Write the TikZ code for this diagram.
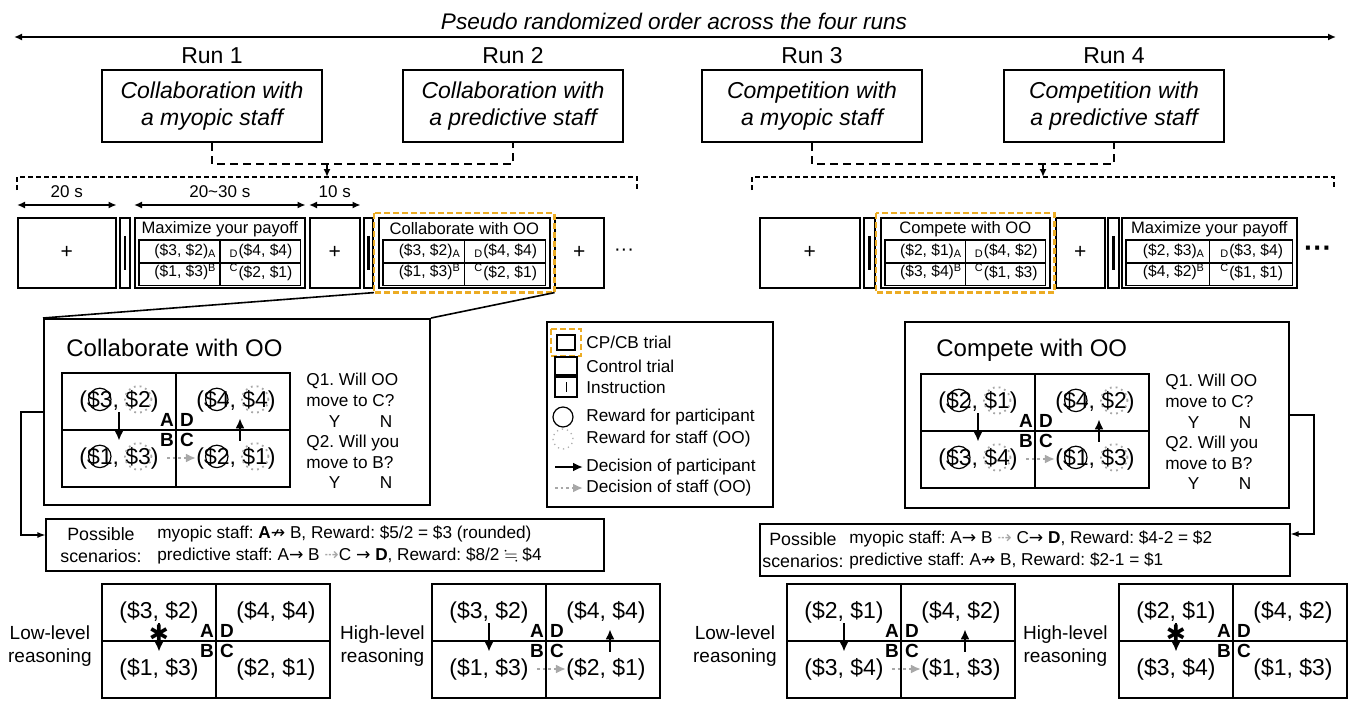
\documentclass[tikz,border=0pt]{standalone}
\usepackage{fontspec}
\setmainfont{Liberation Sans}
\newfontfamily\djv{DejaVu Sans}
\usepackage{amssymb}
\usepackage{tikz}
\usetikzlibrary{arrows.meta,positioning,calc}
\definecolor{cpgold}{RGB}{236,172,36}
\definecolor{oogray}{RGB}{168,168,168}
\newcommand{\fsz}[2]{\fontsize{#1}{#2}\selectfont}
\newcommand{\pmove}{{\djv →}}
\newcommand{\pstop}{{\djv ↛}}
\newcommand{\omove}{{\color{oogray}\djv ⇢}}

% 2x2 payoff grid: name, centre, cells A D B C
\newcommand{\payoffgrid}[6]{%
  \node[paygrid] (#1) at (#2) {};
  \draw[gridline] (#1.north) -- (#1.south);
  \draw[gridline] (#1.west) -- (#1.east);
  \node[pay] (#1-a) at ($(#1.center)+(-57,-29)$) {#3};
  \node[pay] (#1-d) at ($(#1.center)+(60,-29)$) {#4};
  \node[pay] (#1-b) at ($(#1.center)+(-57,28)$) {#5};
  \node[pay] (#1-c) at ($(#1.center)+(60,28)$) {#6};
  \node[corner] (#1-la) at ($(#1.center)+(-9,-10)$) {A};
  \node[corner] (#1-ld) at ($(#1.center)+(11,-10)$) {D};
  \node[corner] (#1-lb) at ($(#1.center)+(-9,10)$) {B};
  \node[corner] (#1-lc) at ($(#1.center)+(11,10)$) {C};
}

% trial screen in the run strip: name, left x, width, title, cells A D B C
\newcommand{\trialscreen}[8]{%
  \node[trial, minimum width=#3*0.5pt] (#1) at (#2,217) {};
  \node[trialtitle] (#1-t) at ($(#1.north)+(0,12)$) {#4};
  \draw[tableline] ($(#1.north west)+(5,23)$) rectangle ($(#1.south east)+(-5,-3)$);
  \draw[tableline] ($(#1.north)+(0,23)$) -- ($(#1.south)+(0,-3)$);
  \draw[tableline] ($(#1.west)+(5,10)$) -- ($(#1.east)+(-5,10)$);
  \node[cellt] (#1-a) at ($(#1.north west)!0.3!(#1.north east)+(0,34)$) {#5};
  \node[cellt] (#1-d) at ($(#1.north west)!0.74!(#1.north east)+(0,34)$) {#6};
  \node[cellt] (#1-b) at ($(#1.north west)!0.3!(#1.north east)+(0,55)$) {#7};
  \node[cellt] (#1-c) at ($(#1.north west)!0.74!(#1.north east)+(0,55)$) {#8};
}

\begin{document}
\frenchspacing
\begin{tikzpicture}[x=0.5pt, y=-0.5pt,
  runbox/.style={draw, line width=1pt, minimum width=110pt, minimum height=36pt, align=center, font=\itshape\fsz{11.5}{13.5}},
  runlabel/.style={inner sep=0, font=\fsz{11.5}{13}},
  runlink/.style={line width=0.9pt, dash pattern=on 4pt off 2.5pt},
  bracket/.style={line width=0.6pt, dash pattern=on 2.5pt off 1.5pt},
  durspan/.style={arrows={Latex[length=4pt,width=3.5pt]-Latex[length=4pt,width=3.5pt]}, line width=0.8pt},
  spanlabel/.style={inner sep=0, font=\fsz{8.5}{10}},
  trial/.style={draw, line width=0.8pt, anchor=north west, minimum height=35pt, inner sep=0, font=\fsz{10.5}{12}},
  trialtitle/.style={inner sep=0, font=\fsz{8.3}{9.5}},
  tableline/.style={line width=0.8pt},
  cellt/.style={inner sep=0, font=\fsz{7.8}{8.5}},
  instrbar/.style={line width=1.3pt},
  cpline/.style={cpgold, line width=1.2pt, dash pattern=on 3pt off 1.5pt},
  panel/.style={draw, line width=1pt},
  paneltitle/.style={anchor=west, inner sep=0, font=\fsz{12}{14}},
  paygrid/.style={draw, line width=1pt, minimum width=114pt, minimum height=57pt, inner sep=0},
  gridline/.style={line width=1pt},
  pay/.style={inner sep=0, font=\fsz{11.5}{13}},
  corner/.style={inner sep=0, font=\bfseries\fsz{9.5}{11}},
  ring/.style={line width=0.6pt},
  oring/.style={oogray, line width=0.9pt, dotted},
  pdec/.style={line width=1.3pt, -{Latex[length=5pt,width=4.5pt]}},
  odec/.style={oogray, line width=1.3pt, dash pattern=on 1.3pt off 1.5pt, -{Latex[length=5pt,width=4.5pt]}},
  blockmark/.style={inner sep=0, font=\djv\fsz{12}{12}},
  qtext/.style={anchor=north west, align=left, inner sep=0, font=\fsz{8.6}{10.3}},
  legendtext/.style={anchor=west, inner sep=0, font=\fsz{8.6}{10}},
  icon/.style={draw, line width=1pt, inner sep=0},
  scenbox/.style={draw, line width=0.6pt, inner sep=0},
  scentext/.style={inner sep=0, align=left, anchor=west, font=\fsz{8.6}{11}},
  scenhead/.style={inner sep=0, align=center, font=\fsz{8.9}{11}},
  levellabel/.style={inner sep=0, align=center, anchor=east, font=\fsz{9.5}{11.5}},
  link/.style={line width=0.6pt, -{Latex[length=4pt,width=3pt]}}
]
\useasboundingbox (0,0) rectangle (1348,701);

% order of the runs
\node[inner sep=0, font=\itshape\fsz{11.3}{13}] (order) at (674,21) {Pseudo randomized order across the four runs};
\coordinate (ordL) at (14,37);
\coordinate (ordR) at (1336,37);
\draw[durspan, line width=0.8pt] (ordL) -- (ordR);

% runs
\node[runbox] (R1) at (212,106) {Collaboration with\\a myopic staff};
\node[runbox] (R2) at (513,106) {Collaboration with\\a predictive staff};
\node[runbox] (R3) at (812,106) {Competition with\\a myopic staff};
\node[runbox] (R4) at (1114,106) {Competition with\\a predictive staff};
\foreach \r in {1,...,4}
  \node[runlabel, above=2.5pt of R\r] (R\r-l) {Run \r};

\draw[runlink] (R1.south) -- ++(0,21) -| (R2.south);
\draw[runlink] (R3.south) -- ++(0,21) -| (R4.south);
\coordinate (trainL) at (327,177);
\coordinate (trainR) at (1043,177);
\draw[runlink, -{Latex[length=4pt,width=3.5pt]}] ($(trainL)+(0,-14)$) -- (trainL);
\draw[runlink, -{Latex[length=4pt,width=3.5pt]}] ($(trainR)+(0,-14)$) -- (trainR);
\draw[bracket] (17,190) -- (17,177) -- (637,177) -- (637,190);
\draw[bracket] (752,190) -- (752,177) -- (1334,177) -- (1334,190);

% run strip, left
\node[trial, minimum width=49pt] (F1) at (17,217) {+};
\trialscreen{T1}{134}{170}{Maximize your payoff}{(\$3, \$2)\textsubscript{A}}{\textsubscript{D}(\$4, \$4)}{(\$1, \$3)\textsuperscript{B}}{\textsuperscript{C}(\$2, \$1)}
\node[trial, minimum width=25pt] (F2) at (309,217) {+};
\trialscreen{T2}{378}{171}{Collaborate with OO}{(\$3, \$2)\textsubscript{A}}{\textsubscript{D}(\$4, \$4)}{(\$1, \$3)\textsuperscript{B}}{\textsuperscript{C}(\$2, \$1)}
\node[trial, minimum width=24.5pt] (F3) at (554,217) {+};
\node[inner sep=0, font=\fsz{10}{10}] (dotsL) at (624,252) {···};

% durations
\draw[durspan] ([yshift=6pt]F1.north west) -- ([yshift=6pt]F1.north east) node[spanlabel, midway, above=3.5pt] (d1) {20 s};
\draw[durspan] ([yshift=6pt]T1.north west) -- ([yshift=6pt]T1.north east) node[spanlabel, midway, above=3.5pt] (d2) {20\textasciitilde 30 s};
\draw[durspan] ([yshift=6pt]F2.north west) -- ([yshift=6pt]F2.north east) node[spanlabel, midway, above=3.5pt] (d3) {10 s};

% run strip, right
\node[trial, minimum width=50pt] (F4) at (759,217) {+};
\trialscreen{T3}{880}{169}{Compete with OO}{(\$2, \$1)\textsubscript{A}}{\textsubscript{D}(\$4, \$2)}{(\$3, \$4)\textsuperscript{B}}{\textsuperscript{C}(\$1, \$3)}
\node[trial, minimum width=24.5pt] (F5) at (1055,217) {+};
\trialscreen{T4}{1121}{175}{Maximize your payoff}{(\$2, \$3)\textsubscript{A}}{\textsubscript{D}(\$3, \$4)}{(\$4, \$2)\textsuperscript{B}}{\textsuperscript{C}(\$1, \$1)}
\node[inner sep=0, font=\bfseries\fsz{14}{14}] (dotsR) at (1318,252) {···};

\foreach \n/\x/\w in {I1/119/5, I2/363/4.5, I3/863/5.5, I4/1107/5.5} {
  \node[trial, minimum width=\w pt] (\n) at (\x,217) {};
  \draw[instrbar] ($(\n.center)+(0,-17)$) -- ($(\n.center)+(0,17)$);
}
\foreach \t in {T2,T3}
  \draw[cpline] ([xshift=-2pt,yshift=2pt]\t.north west) rectangle ([xshift=2pt,yshift=-2pt]\t.south east);

% collaboration trial, enlarged
\node[panel, minimum width=193pt, minimum height=93pt] (PL) at (237,412) {};
\draw[line width=0.8pt] ([xshift=-2pt,yshift=-2pt]T2.south west) -- (PL.north west);
\draw[line width=0.8pt] ([xshift=2pt,yshift=-2pt]T2.south east) -- (PL.north east);
\node[paneltitle] (PL-t) at (66,348) {Collaborate with OO};
\payoffgrid{PLg}{176,430}{(\$3, \$2)}{(\$4, \$4)}{(\$1, \$3)}{(\$2, \$1)}
\node[qtext] (PL-q) at (306,373) {Q1. Will OO\\move to C?\\\hspace*{1.3em}Y\hspace{2.3em}N\\Q2. Will you\\move to B?\\\hspace*{1.3em}Y\hspace{2.3em}N};

% competition trial, enlarged
\node[panel, minimum width=192pt, minimum height=93pt] (PR) at (1097,415) {};
\node[paneltitle] (PR-t) at (936,350) {Compete with OO};
\payoffgrid{PRg}{1035,431}{(\$2, \$1)}{(\$4, \$2)}{(\$3, \$4)}{(\$1, \$3)}
\node[qtext] (PR-q) at (1165,374) {Q1. Will OO\\move to C?\\\hspace*{1.3em}Y\hspace{2.3em}N\\Q2. Will you\\move to B?\\\hspace*{1.3em}Y\hspace{2.3em}N};

\foreach \c in {PLg-a,PLg-d,PLg-b,PLg-c,PRg-a,PRg-d,PRg-b,PRg-c} {
  \draw[ring] ([xshift=-9.6pt,yshift=0.8pt]\c.center) circle (5.6pt);
  \draw[oring] ([xshift=9.6pt,yshift=0.8pt]\c.center) circle (6.6pt);
}

% legend
\node[panel, minimum width=113pt, minimum height=92.5pt] (LG) at (660,414.5) {};
\node[icon, minimum width=9pt, minimum height=7.5pt] (LG-cp) at (566,342.5) {};
\draw[cpline, line width=1pt] ([xshift=-2.5pt,yshift=2.5pt]LG-cp.north west) rectangle ([xshift=2.5pt,yshift=-2.5pt]LG-cp.south east);
\node[icon, minimum width=11pt, minimum height=9pt] (LG-ct) at (566,366) {};
\node[icon, minimum width=11pt, minimum height=10pt] (LG-in) at (566,387) {};
\draw[line width=0.5pt] ($(LG-in.center)+(0,-5)$) -- ($(LG-in.center)+(0,5)$);
\node[draw, circle, line width=0.6pt, minimum size=10pt, inner sep=0] (LG-rp) at (563,417) {};
\node[draw=oogray, dotted, circle, line width=0.6pt, minimum size=10pt, inner sep=0] (LG-ro) at (563,439) {};
\coordinate (LG-d1) at (555,467);
\coordinate (LG-d1e) at (583,467);
\coordinate (LG-d2) at (555,488);
\coordinate (LG-d2e) at (583,488);
\draw[pdec] (LG-d1) -- (LG-d1e);
\draw[odec] (LG-d2) -- (LG-d2e);
\node[legendtext] (LG-t1) at (586,342) {CP/CB trial};
\node[legendtext] (LG-t2) at (586,366) {Control trial};
\node[legendtext] (LG-t3) at (586,387) {Instruction};
\node[legendtext] (LG-t4) at (586,417) {Reward for participant};
\node[legendtext] (LG-t5) at (586,439) {Reward for staff (OO)};
\node[legendtext] (LG-t6) at (586,467) {Decision of participant};
\node[legendtext] (LG-t7) at (586,488) {Decision of staff (OO)};

% possible scenarios
\node[scenbox, minimum width=279pt, minimum height=26pt] (SL) at (325,545) {};
\node[scenhead] (SL-h) at (101,545) {Possible\\scenarios:};
\node[scentext] (SL-t) at (157,545) {myopic staff: \textbf{A}\pstop{} B, Reward: \$5/2 = \$3 (rounded)\\predictive staff: A\pmove{} B \omove{}C \pmove{} \textbf{D}, Reward: \$8/2 $\fallingdotseq$ \$4};
\draw[link] (PL.west) -- ++(-22,0) |- ([yshift=5pt]SL.west);

\node[scenbox, minimum width=265pt, minimum height=26pt] (SR) at (1025,550) {};
\node[scenhead] (SR-h) at (803,550) {Possible\\scenarios:};
\node[scentext] (SR-t) at (849,550) {myopic staff: A\pmove{} B \omove{} C\pmove{} \textbf{D}, Reward: \$4-2 = \$2\\predictive staff: A\pstop{} B, Reward: \$2-1 = \$1};
\draw[link] (PR.east) -- ++(24,0) |- ([yshift=8pt]SR.east);

% reasoning levels
\node[levellabel] (BLl-lab) at (92,646) {Low-level\\reasoning};
\payoffgrid{BLl}{216,641}{(\$3, \$2)}{(\$4, \$4)}{(\$1, \$3)}{(\$2, \$1)}
\node[levellabel] (BLh-lab) at (425,646) {High-level\\reasoning};
\payoffgrid{BLh}{546,641}{(\$3, \$2)}{(\$4, \$4)}{(\$1, \$3)}{(\$2, \$1)}
\node[levellabel] (BRl-lab) at (777,646) {Low-level\\reasoning};
\payoffgrid{BRl}{901,641}{(\$2, \$1)}{(\$4, \$2)}{(\$3, \$4)}{(\$1, \$3)}
\node[levellabel] (BRh-lab) at (1108,646) {High-level\\reasoning};
\payoffgrid{BRh}{1233,641}{(\$2, \$1)}{(\$4, \$2)}{(\$3, \$4)}{(\$1, \$3)}

% decisions
\foreach \g in {PLg,PRg,BLh,BRl} {
  \draw[pdec] (\g-a.south) -- ([yshift=3pt]\g-b.north);
  \draw[pdec] ([xshift=2pt,yshift=3pt]\g-c.north) -- ([xshift=2pt,yshift=-3pt]\g-d.south);
  \draw[odec] ([xshift=4pt]\g-b.east) -- (\g-c.west);
}
\foreach \g in {BLl,BRh} {
  \draw[pdec] (\g-a.south) -- ([yshift=3pt]\g-b.north);
  \node[blockmark] (\g-x) at ($(\g-a.south)!0.3!(\g-b.north)$) {✱};
}
\end{tikzpicture}
\end{document}
